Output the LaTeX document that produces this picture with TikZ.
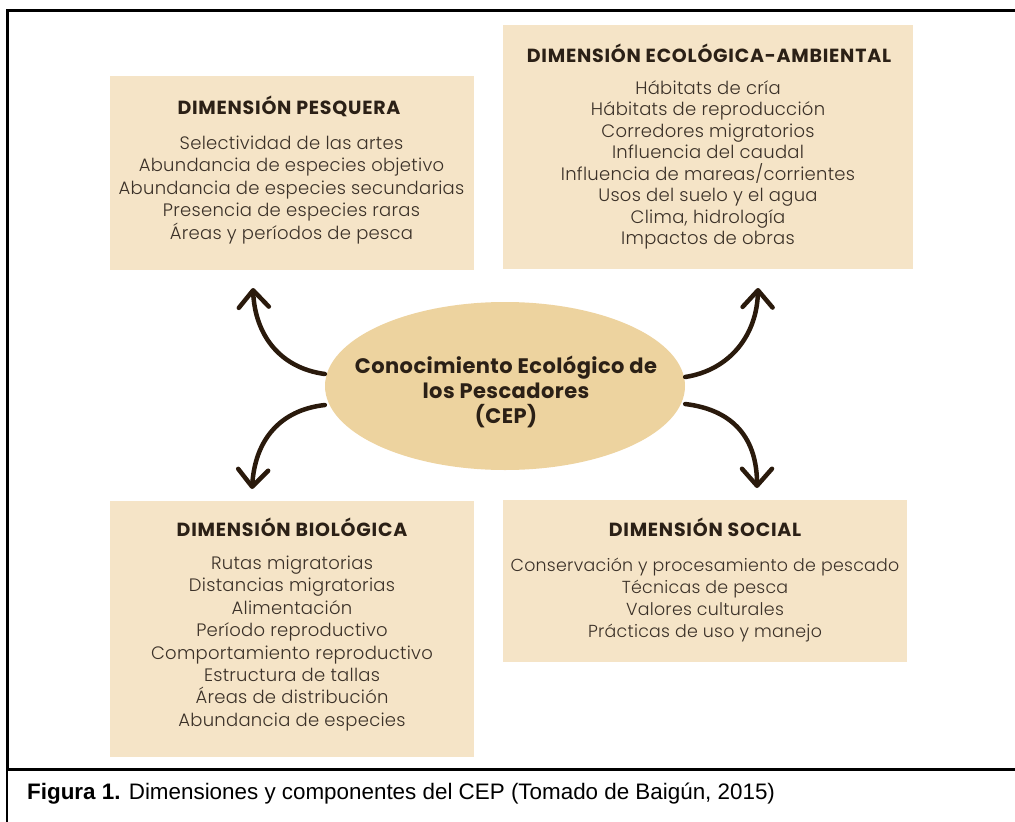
\documentclass[tikz,border=0pt]{standalone}
\usepackage{fontspec}
\setmainfont{Poppins}
\newfontfamily\capfont{Liberation Sans}
\newfontfamily\headfont{Poppins}[LetterSpace=4]
\newfontfamily\bodyfont{Poppins Light}[LetterSpace=1.5]
\newfontfamily\cepfont{Poppins}[LetterSpace=2]
\usetikzlibrary{arrows.meta,shapes.geometric}
\definecolor{boxfill}{HTML}{F5E4C7}
\definecolor{ellfill}{HTML}{EDD39F}
\definecolor{darktext}{HTML}{2B2016}
\definecolor{bodytext}{HTML}{3B3128}
\definecolor{arrowcol}{HTML}{2A1A0C}
\tikzset{
  dimbox/.style={fill=boxfill, draw=none, inner sep=0pt, rectangle},
  dimhead/.style={font=\headfont\bfseries\fontsize{19}{22}\selectfont, text=darktext, inner sep=0pt},
  dimbody/.style={font=\bodyfont\fontsize{18}{#1}\selectfont, text=bodytext, align=center, inner sep=0pt},
  dimbody/.default=22,
  cepnode/.style={ellipse, fill=ellfill, draw=none, minimum width=360pt, minimum height=168pt, inner sep=0pt},
  ceptxt/.style={font=\cepfont\bfseries\fontsize{21}{25}\selectfont, text=darktext, align=center, inner sep=0pt},
  curvarrow/.style={draw=arrowcol, line width=4.5pt, line cap=round, -{Straight Barb[length=17pt,width=30pt,round]}},
  framerule/.style={line width=3pt, draw=black}
}
\begin{document}
\begin{tikzpicture}[x=1pt,y=-1pt]
\useasboundingbox (0,0) rectangle (1015,822);
% frame
\draw[framerule] (1015,10) -- (7,10) -- (7,769);
\draw[framerule] (7,769) -- (1015,769);
\draw[line width=1.3pt] (7,769) -- (7,822);
% boxes
\node[dimbox, minimum width=364pt, minimum height=194pt] (pesq) at (292,173) {};
\node[dimbox, minimum width=410pt, minimum height=244pt] (eco) at (708,147) {};
\node[dimbox, minimum width=364pt, minimum height=256pt] (bio) at (292,629) {};
\node[dimbox, minimum width=404pt, minimum height=162pt] (soc) at (705,581) {};
% headings
\node[dimhead] (pesqh) at (289,106) {DIMENSIÓN PESQUERA};
\node[dimhead] (ecoh) at (709,53) {DIMENSIÓN ECOLÓGICA-AMBIENTAL};
\node[dimhead] (bioh) at (292,527) {DIMENSIÓN BIOLÓGICA};
\node[dimhead] (soch) at (705,527) {DIMENSIÓN SOCIAL};
% bodies
\node[dimbody=22.5] (pesqb) at (291.5,190) {Selectividad de las artes\\Abundancia de especies objetivo\\Abundancia de especies secundarias\\Presencia de especies raras\\Áreas y períodos de pesca};
\node[dimbody=21.5] (ecob) at (708,165) {Hábitats de cría\\Hábitats de reproducción\\Corredores migratorios\\Influencia del caudal\\Influencia de mareas/corrientes\\Usos del suelo y el agua\\Clima, hidrología\\Impactos de obras};
\node[dimbody=22.4] (biob) at (292,643.5) {Rutas migratorias\\Distancias migratorias\\Alimentación\\Período reproductivo\\Comportamiento reproductivo\\Estructura de tallas\\Áreas de distribución\\Abundancia de especies};
\node[dimbody=22, font=\bodyfont\fontsize{17.4}{22}\selectfont] (socb) at (705,600) {Conservación y procesamiento de pescado\\Técnicas de pesca\\Valores culturales\\Prácticas de uso y manejo};
% central ellipse
\node[cepnode] (cep) at (505,386) {};
\node[ceptxt] (cept) at (506,392) {Conocimiento Ecológico de\\los Pescadores\\(CEP)};
% arrow ends
\coordinate (tipTL) at (253,288);
\coordinate (tipBL) at (252,489);
\coordinate (tipTR) at (758,288);
\coordinate (tipBR) at (757,488);
\draw[curvarrow] ([yshift=12pt]cep.west) .. controls (280,368) and (255,335) .. (tipTL);
\draw[curvarrow] ([yshift=-19pt]cep.west) .. controls (280,410) and (255,440) .. (tipBL);
\draw[curvarrow] ([yshift=9pt]cep.east) .. controls (730,370) and (757,335) .. (tipTR);
\draw[curvarrow] ([yshift=-18pt]cep.east) .. controls (735,410) and (757,440) .. (tipBR);
% caption
\node[anchor=west, font=\capfont\fontsize{22.4}{26}\selectfont, inner sep=0pt] (cap) at (27,794) {\textbf{Figura 1.} Dimensiones y componentes del CEP (Tomado de Baigún, 2015)};
\end{tikzpicture}
\end{document}
